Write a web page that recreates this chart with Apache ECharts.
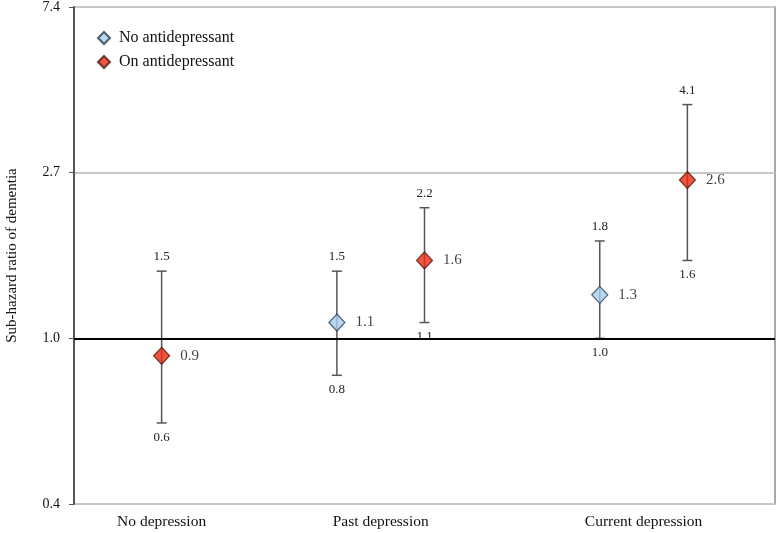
<!DOCTYPE html>
<html>
<head>
<meta charset="utf-8">
<script src="https://cdn.jsdelivr.net/npm/echarts@6/dist/echarts.min.js"></script>
<style>
  html, body { margin: 0; padding: 0; background: #fff; }
  #chart { width: 779px; height: 533px; }
</style>
</head>
<body>
<div id="chart"></div>
<script>
const groupNames = ['No depression', 'Past depression', 'Current depression'];
const groupLabelPos = [0, 2.5, 5.5];

// no antidepressant
const noAntiX = [2, 5];
const noAntiEst = [1.1, 1.3];
const noAntiLow = [0.8, 1.0];
const noAntiHigh = [1.5, 1.8];

// on antidepressant
const onAntiX = [0, 3, 6];
const onAntiEst = [0.9, 1.6, 2.6];
const onAntiLow = [0.6, 1.1, 1.6];
const onAntiHigh = [1.5, 2.2, 4.1];

const serif = '"Liberation Serif", "DejaVu Serif", serif';

function errorRows(xs, lows, highs) {
  return xs.map((x, i) => [x, lows[i], highs[i]]);
}

function renderErrorBar(params, api) {
  const x = api.value(0);
  const low = api.coord([x, api.value(1)]);
  const high = api.coord([x, api.value(2)]);
  const capW = 5;
  const stroke = { stroke: '#555', lineWidth: 1.5 };
  return {
    type: 'group',
    children: [
      { type: 'line', shape: { x1: low[0], y1: low[1], x2: high[0], y2: high[1] }, style: stroke },
      { type: 'line', shape: { x1: low[0] - capW, y1: low[1], x2: low[0] + capW, y2: low[1] }, style: stroke },
      { type: 'line', shape: { x1: high[0] - capW, y1: high[1], x2: high[0] + capW, y2: high[1] }, style: stroke },
      {
        type: 'text',
        x: high[0], y: high[1] - 8,
        style: { text: api.value(2).toFixed(1), font: '13px ' + serif, fill: '#222', align: 'center', verticalAlign: 'bottom' }
      },
      {
        type: 'text',
        x: low[0], y: low[1] + 8,
        style: { text: api.value(1).toFixed(1), font: '13px ' + serif, fill: '#222', align: 'center', verticalAlign: 'top' }
      }
    ]
  };
}

const chart = echarts.init(document.getElementById('chart'));
chart.setOption({
  animation: false,
  backgroundColor: '#fff',
  textStyle: { fontFamily: serif },
  grid: {
    left: 74, right: 4, top: 7, bottom: 29,
    outerBoundsMode: 'none',
    show: true, borderColor: '#8c8c8c', borderWidth: 1.5
  },
  legend: {
    orient: 'vertical',
    left: 92, top: 25,
    itemGap: 8,
    itemWidth: 12, itemHeight: 12,
    textStyle: { fontFamily: serif, fontSize: 16, color: '#111', padding: [0, 0, 0, 4] },
    data: [
      { name: 'No antidepressant', icon: 'diamond' },
      { name: 'On antidepressant', icon: 'diamond' }
    ]
  },
  xAxis: {
    type: 'value',
    min: -1, max: 7, interval: 0.5,
    axisLine: { show: false },
    axisTick: { show: false },
    splitLine: { show: false },
    axisLabel: {
      fontFamily: serif, fontSize: 15.5, color: '#111', margin: 10,
      showMinLabel: false, showMaxLabel: false,
      formatter: (v) => {
        const i = groupLabelPos.findIndex((p) => Math.abs(p - v) < 1e-6);
        return i >= 0 ? groupNames[i] : '';
      }
    }
  },
  yAxis: {
    type: 'log',
    logBase: Math.E,
    min: Math.exp(-1), max: Math.exp(2),
    splitNumber: 3,
    name: 'Sub-hazard ratio of dementia',
    nameLocation: 'middle',
    nameRotate: 90,
    nameGap: 54,
    nameTextStyle: { fontFamily: serif, fontSize: 15, color: '#111' },
    axisLine: { show: true, onZero: false, lineStyle: { color: '#555', width: 2 } },
    axisTick: { show: true, length: 5, lineStyle: { color: '#555' } },
    axisLabel: {
      fontFamily: serif, fontSize: 14, color: '#111', margin: 14,
      formatter: (v) => v.toFixed(1)
    },
    splitLine: { show: true, lineStyle: { color: '#c8c8c8', width: 2 } }
  },
  series: [
    {
      type: 'custom',
      name: 'errNo',
      renderItem: renderErrorBar,
      data: errorRows(noAntiX, noAntiLow, noAntiHigh),
      z: 2,
      markLine: {
        silent: true,
        symbol: 'none',
        label: { show: false },
        lineStyle: { color: '#000', width: 2, type: 'solid' },
        data: [{ yAxis: 1 }]
      }
    },
    {
      type: 'custom',
      name: 'errOn',
      renderItem: renderErrorBar,
      data: errorRows(onAntiX, onAntiLow, onAntiHigh),
      z: 2
    },
    {
      type: 'scatter',
      name: 'No antidepressant',
      symbol: 'diamond',
      symbolSize: [16, 17],
      itemStyle: { color: '#a9cdef', borderColor: '#2b3a4a', borderWidth: 1.2 },
      label: {
        show: true, position: 'right', distance: 10,
        fontFamily: serif, fontSize: 15, color: '#111',
        formatter: (p) => p.value[1].toFixed(1)
      },
      data: noAntiX.map((x, i) => [x, noAntiEst[i]]),
      z: 5
    },
    {
      type: 'scatter',
      name: 'On antidepressant',
      symbol: 'diamond',
      symbolSize: [16, 17],
      itemStyle: { color: '#ee2a10', borderColor: '#4a1a10', borderWidth: 1.2 },
      label: {
        show: true, position: 'right', distance: 10,
        fontFamily: serif, fontSize: 15, color: '#111',
        formatter: (p) => p.value[1].toFixed(1)
      },
      data: onAntiX.map((x, i) => [x, onAntiEst[i]]),
      z: 5
    }
  ]
});
</script>
</body>
</html>
